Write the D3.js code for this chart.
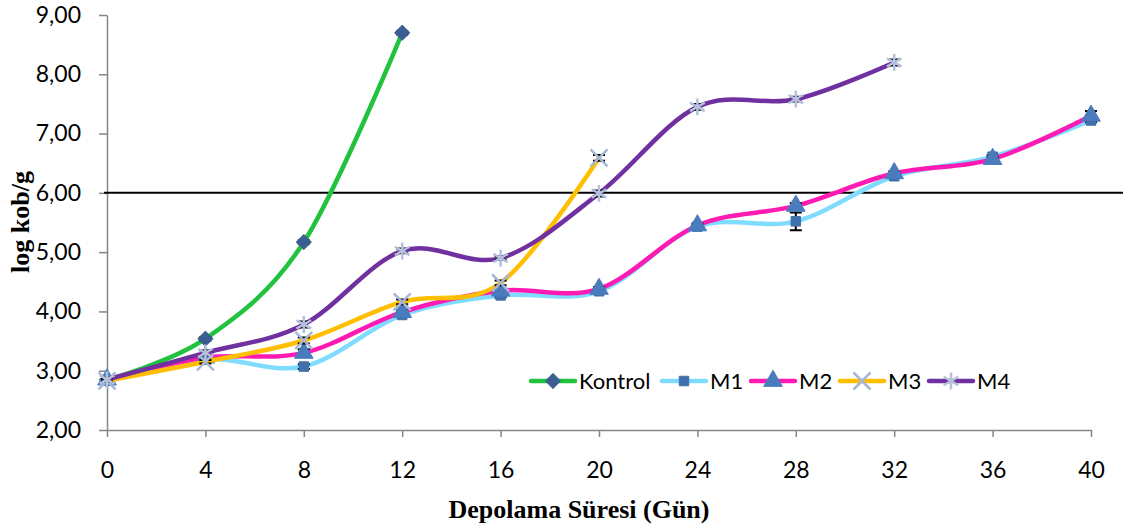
<!DOCTYPE html>
<html>
<head>
<meta charset="utf-8">
<script src="https://cdn.jsdelivr.net/npm/d3@7"></script>
<style>
  body { margin: 0; background: #fff; }
  .tick text { font-family: Lato, "Open Sans", sans-serif; font-size: 23px; fill: #000; }
  .axis path, .axis line { stroke: #868686; stroke-width: 1.5; }
  .title { font-family: "Liberation Serif", "Times New Roman", serif; font-weight: bold; font-size: 26px; }
  .legend text { font-family: Lato, "Open Sans", sans-serif; font-size: 22px; }
</style>
</head>
<body>
<div id="chart"></div>
<script>
var days = [0, 4, 8, 12, 16, 20, 24, 28, 32, 36, 40];
var yTicks = [2, 3, 4, 5, 6, 7, 8, 9];
var seriesNames = ['Kontrol', 'M1', 'M2', 'M3', 'M4'];

var kontrol = [2.85, 3.54, 5.17, 8.70];
var m1 = [2.83, 3.20, 3.07, 3.94, 4.27, 4.34, 5.43, 5.52, 6.28, 6.61, 7.22];
var m2 = [2.85, 3.22, 3.30, 3.99, 4.35, 4.38, 5.45, 5.78, 6.33, 6.57, 7.30];
var m3 = [2.83, 3.15, 3.51, 4.16, 4.48, 6.59];
var m4 = [2.85, 3.30, 3.78, 5.02, 4.90, 5.99, 7.45, 7.58, 8.20];

var kontrolErr = [0.03, 0.03, 0.03, 0.03];
var m1Err = [0.03, 0.03, 0.04, 0.03, 0.03, 0.03, 0.03, 0.15, 0.03, 0.03, 0.03];
var m2Err = [0.03, 0.03, 0.06, 0.03, 0.03, 0.03, 0.03, 0.05, 0.03, 0.03, 0.08];
var m3Err = [0.03, 0.03, 0.05, 0.04, 0.04, 0.05];
var m4Err = [0.03, 0.04, 0.05, 0.04, 0.03, 0.05, 0.05, 0.04, 0.05];

var limit = 6;

var lineColors = ['#21c23e', '#7fdcff', '#ff1ab4', '#ffbf00', '#7030a0'];
var markerColors = ['#3a5e8f', '#4070aa', '#4a7cbd', '#a8b6d6', '#b4c0dc'];

var width = 1129, height = 530;
var margin = {left: 107, right: 38, top: 15, bottom: 100};

var svg = d3.select('#chart').append('svg')
  .attr('width', width)
  .attr('height', height);

var xScale = d3.scaleLinear()
  .domain([0, 40])
  .range([margin.left, width - margin.right]);

var yScale = d3.scaleLinear()
  .domain([2, 9])
  .range([height - margin.bottom, margin.top]);

var fmt = function(d) { return d3.format('.2f')(d).replace('.', ','); };

svg.append('g')
  .attr('class', 'axis')
  .attr('transform', 'translate(' + margin.left + ',0)')
  .call(d3.axisLeft(yScale).tickValues(yTicks).tickFormat(fmt).tickSize(8).tickSizeOuter(0).tickPadding(18));

svg.append('g')
  .attr('class', 'axis')
  .attr('transform', 'translate(0,' + (height - margin.bottom) + ')')
  .call(d3.axisBottom(xScale).tickValues(days).tickFormat(d3.format('d')).tickSize(7).tickSizeOuter(0).tickPadding(25));

// 6,00 limit line
svg.append('line')
  .attr('x1', margin.left - 3)
  .attr('x2', width - 6)
  .attr('y1', yScale(limit))
  .attr('y2', yScale(limit))
  .attr('stroke', '#000')
  .attr('stroke-width', 2);

var series = [
  {values: kontrol, err: kontrolErr, symbol: d3.symbolSquare, size: 110, rot: 45, fill: true},
  {values: m1, err: m1Err, symbol: d3.symbolSquare, size: 90, rot: 0, fill: true},
  {values: m2, err: m2Err, symbol: d3.symbolTriangle, size: 150, rot: 0, fill: true},
  {values: m3, err: m3Err, symbol: d3.symbolX, size: 190, rot: 0, fill: false},
  {values: m4, err: m4Err, symbol: d3.symbolAsterisk, size: 200, rot: 0, fill: false}
];

var line = d3.line()
  .x(function(d, i) { return xScale(days[i]); })
  .y(function(d) { return yScale(d); })
  .curve(d3.curveCardinal.tension(0));

function marker(sel, s, k) {
  sel.attr('d', d3.symbol().type(s.symbol).size(s.size))
    .attr('fill', s.fill ? markerColors[k] : 'none')
    .attr('stroke', markerColors[k])
    .attr('stroke-width', s.fill ? 1 : 2.5)
    .attr('stroke-linejoin', 'round');
}

series.forEach(function(s, k) {
  var g = svg.append('g');
  g.append('path')
    .attr('d', line(s.values))
    .attr('fill', 'none')
    .attr('stroke', lineColors[k])
    .attr('stroke-width', 4.5)
    .attr('stroke-linecap', 'round');

  s.values.forEach(function(v, i) {
    var x = xScale(days[i]);
    var e = s.err[i];
    g.append('path')
      .attr('d', 'M' + (x - 6) + ',' + yScale(v + e) + 'h12M' + x + ',' + yScale(v + e) +
        'V' + yScale(v - e) + 'M' + (x - 6) + ',' + yScale(v - e) + 'h12')
      .attr('stroke', '#000')
      .attr('stroke-width', 2)
      .attr('fill', 'none');
  });

  g.selectAll('.mk')
    .data(s.values)
    .enter()
    .append('path')
    .attr('transform', function(d, i) {
      return 'translate(' + xScale(days[i]) + ',' + yScale(d) + ') rotate(' + s.rot + ')';
    })
    .call(marker, s, k);
});

// legend
var legendX = [531, 662, 751, 840, 929];
var legend = svg.append('g').attr('class', 'legend');
seriesNames.forEach(function(name, k) {
  var lx = legendX[k], ly = 381;
  legend.append('line')
    .attr('x1', lx).attr('x2', lx + 44)
    .attr('y1', ly).attr('y2', ly)
    .attr('stroke', lineColors[k])
    .attr('stroke-width', 4.5)
    .attr('stroke-linecap', 'round');
  legend.append('path')
    .attr('transform', 'translate(' + (lx + 22) + ',' + ly + ') rotate(' + series[k].rot + ')')
    .call(marker, series[k], k);
  legend.append('text')
    .attr('x', lx + 48)
    .attr('y', ly)
    .attr('dy', '0.35em')
    .text(name);
});

svg.append('text')
  .attr('class', 'title')
  .attr('x', (margin.left + width - margin.right) / 2 - 20)
  .attr('y', 518)
  .attr('text-anchor', 'middle')
  .text('Depolama Süresi (Gün)');

svg.append('text')
  .attr('class', 'title')
  .attr('transform', 'translate(29,222) rotate(-90)')
  .attr('text-anchor', 'middle')
  .text('log kob/g');
</script>
</body>
</html>
